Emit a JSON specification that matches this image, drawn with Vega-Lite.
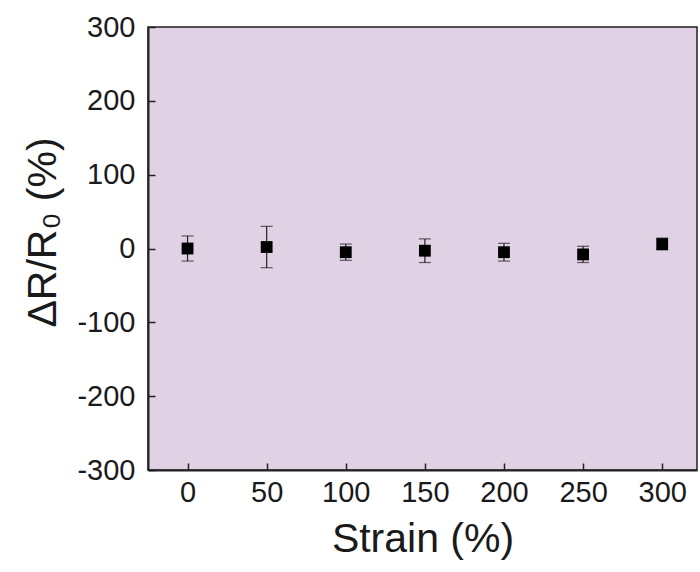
{
  "$schema": "https://vega.github.io/schema/vega-lite/v6.json",
  "autosize": {"type": "none"},
  "width": 549,
  "height": 443,
  "padding": {"left": 148, "top": 27, "right": 3, "bottom": 102},
  "background": "white",
  "config": {
    "font": "Liberation Sans",
    "view": {"fill": "#e0d1e4", "stroke": "#222222", "strokeWidth": 1.5},
    "axis": {
      "domainColor": "#222222",
      "domainWidth": 2,
      "tickColor": "#222222",
      "tickWidth": 1.5,
      "grid": false,
      "labelFont": "Liberation Sans",
      "labelFontSize": 29,
      "labelColor": "#1a1a1a",
      "titleFont": "Liberation Sans",
      "titleFontSize": 41,
      "titleFontWeight": "normal",
      "titleColor": "#1a1a1a"
    }
  },
  "data": {
    "values": [
      {"strain": 0, "value": 0, "err": 17},
      {"strain": 50, "value": 2, "err": 28},
      {"strain": 100, "value": -5, "err": 11},
      {"strain": 150, "value": -3, "err": 16},
      {"strain": 200, "value": -5, "err": 12},
      {"strain": 250, "value": -8, "err": 11},
      {"strain": 300, "value": 6, "err": 8}
    ]
  },
  "transform": [
    {"calculate": "datum.value - datum.err", "as": "lo"},
    {"calculate": "datum.value + datum.err", "as": "hi"}
  ],
  "encoding": {
    "x": {
      "field": "strain",
      "type": "quantitative",
      "scale": {"domain": [-25, 322], "nice": false, "zero": false},
      "axis": {"values": [0, 50, 100, 150, 200, 250, 300], "title": "Strain (%)", "tickSize": -7, "labelPadding": 15, "titlePadding": 12}
    }
  },
  "layer": [
    {
      "mark": {"type": "rule", "color": "#222222", "strokeWidth": 1.2},
      "encoding": {
        "y": {"field": "lo", "type": "quantitative"},
        "y2": {"field": "hi"}
      }
    },
    {
      "mark": {"type": "tick", "color": "#222222", "thickness": 1.2, "size": 12, "orient": "horizontal"},
      "encoding": {"y": {"field": "lo", "type": "quantitative"}}
    },
    {
      "mark": {"type": "tick", "color": "#222222", "thickness": 1.2, "size": 12, "orient": "horizontal"},
      "encoding": {"y": {"field": "hi", "type": "quantitative"}}
    },
    {
      "mark": {"type": "point", "shape": "square", "filled": true, "color": "#000000", "size": 140, "opacity": 1},
      "encoding": {
        "y": {
          "field": "value",
          "type": "quantitative",
          "scale": {"domain": [-300, 300], "nice": false},
          "axis": {
            "values": [-300, -200, -100, 0, 100, 200, 300],
            "title": "ΔR/R₀ (%)",
            "tickSize": -7,
            "labelPadding": 20,
            "titlePadding": 12,
            "titleY": 205,
            "labelExpr": "datum.value < 0 ? '-' + abs(datum.value) : '' + datum.value"
          }
        }
      }
    }
  ]
}
